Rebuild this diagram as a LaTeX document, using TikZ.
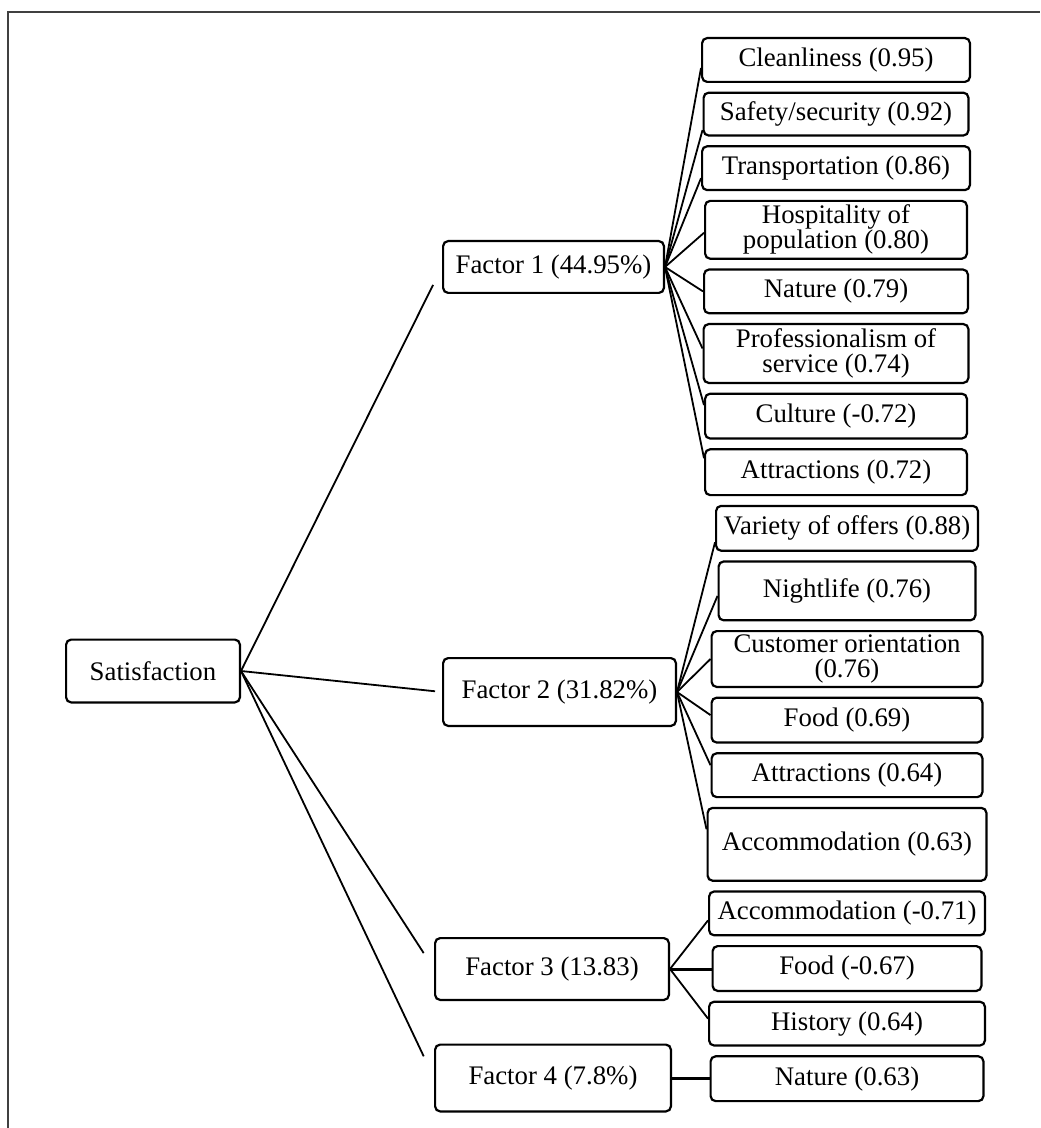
\documentclass[tikz,border=0pt]{standalone}
\usepackage{fontspec}
\setmainfont{Liberation Serif}
\usetikzlibrary{positioning}

\begin{document}
\begin{tikzpicture}[x=0.5pt,y=-0.5pt,
  box/.style={draw, rounded corners=2.5pt, line width=1.1pt, align=center, inner sep=1pt, font=\fontsize{13.4}{12.5}\selectfont},
  leaf/.style={box, minimum height=21.9pt},
  link/.style={line width=0.9pt},
  node distance=4.3pt]

\useasboundingbox (0,0) rectangle (1040,1128);
\draw[line width=1pt, black!75] (8,1128) -- (8,12) -- (1040,12);

\node[box, minimum width=86.9pt, minimum height=31.4pt] (S) at (153,671) {Satisfaction};

\node[box, minimum width=110.4pt, minimum height=25.9pt] (F_1) at (553.5,267) {Factor 1 (44.95\%)};
\node[box, minimum width=116.4pt, minimum height=33.9pt] (F_2) at (559.5,692) {Factor 2 (31.82\%)};
\node[box, minimum width=116.9pt, minimum height=30.9pt] (F_3) at (552,969) {Factor 3 (13.83)};
\node[box, minimum width=117.9pt, minimum height=33.4pt] (F_4) at (553,1078) {Factor 4 (7.8\%)};

\node[leaf, minimum width=133.9pt] (C_1^1) at (836,60) {Cleanliness (0.95)};
\node[leaf, minimum width=132.4pt, minimum height=21.4pt, below=of C_1^1] (C_1^2) {Safety/security (0.92)};
\node[leaf, minimum width=133.9pt, below=of C_1^2] (C_1^3) {Transportation (0.86)};
\node[leaf, minimum width=130.9pt, minimum height=28.9pt, below=of C_1^3] (C_1^4) {Hospitality of\\population (0.80)};
\node[leaf, minimum width=131.9pt, below=of C_1^4] (C_1^5) {Nature (0.79)};
\node[leaf, minimum width=132.4pt, minimum height=29.4pt, below=of C_1^5] (C_1^6) {Professionalism of\\service (0.74)};
\node[leaf, minimum width=130.9pt, minimum height=22.4pt, below=of C_1^6] (C_1^7) {Culture (-0.72)};
\node[leaf, minimum width=130.9pt, minimum height=22.9pt, below=of C_1^7] (C_1^8) {Attractions (0.72)};

\node[leaf, minimum width=130.9pt, minimum height=22.4pt, below=of C_1^8, xshift=5.5pt] (C_2^1) {Variety of offers (0.88)};
\node[leaf, minimum width=128.4pt, minimum height=29.4pt, below=of C_2^1] (C_2^2) {Nightlife (0.76)};
\node[leaf, minimum width=135.4pt, minimum height=27.9pt, below=of C_2^2] (C_2^3) {Customer orientation\\(0.76)};
\node[leaf, minimum width=135.4pt, minimum height=22.4pt, below=of C_2^3] (C_2^4) {Food (0.69)};
\node[leaf, minimum width=135.4pt, below=of C_2^4] (C_2^5) {Attractions (0.64)};
\node[leaf, minimum width=139.4pt, minimum height=36.4pt, below=of C_2^5] (C_2^6) {Accommodation (0.63)};

\node[leaf, minimum width=137.9pt, below=of C_2^6] (C_3^1) {Accommodation (-0.71)};
\node[leaf, minimum width=134.4pt, minimum height=22.4pt, below=of C_3^1] (C_3^2) {Food (-0.67)};
\node[leaf, minimum width=137.9pt, below=of C_3^2] (C_3^3) {History (0.64)};

\node[leaf, minimum width=136.4pt, minimum height=22.4pt, below=of C_3^3] (C_4^1) {Nature (0.63)};

\draw[link, shorten >=10pt] (S.east) -- (F_1.west);
\draw[link, shorten >=3.5pt] (S.east) -- (F_2.west);
\draw[link, shorten >=9.5pt] (S.east) -- (F_3.west);
\draw[link, shorten >=12pt] (S.east) -- (F_4.west);

\draw[link] (F_1.east) -- ([yshift=-4pt]C_1^1.west);
\draw[link] (F_1.east) -- ([yshift=-8pt]C_1^2.west);
\draw[link] (F_1.east) -- ([yshift=-5pt]C_1^3.west);
\draw[link] (F_1.east) -- ([yshift=-1.5pt]C_1^4.west);
\draw[link] (F_1.east) -- (C_1^5.west);
\draw[link] (F_1.east) -- ([yshift=2.5pt]C_1^6.west);
\draw[link] (F_1.east) -- ([yshift=5.5pt]C_1^7.west);
\draw[link] (F_1.east) -- ([yshift=7pt]C_1^8.west);

\draw[link] (F_2.east) -- ([yshift=-7pt]C_2^1.west);
\draw[link] (F_2.east) -- ([yshift=-2.5pt]C_2^2.west);
\draw[link] (F_2.east) -- (C_2^3.west);
\draw[link] (F_2.east) -- ([yshift=2.5pt]C_2^4.west);
\draw[link] (F_2.east) -- ([yshift=5pt]C_2^5.west);
\draw[link] (F_2.east) -- ([yshift=7.5pt]C_2^6.west);

\draw[link] (F_3.east) -- ([yshift=-3.5pt]C_3^1.west);
\draw[link, line width=1.5pt] (F_3.east) -- (F_3.east -| C_3^2.west);
\draw[link] (F_3.east) -- ([yshift=2.5pt]C_3^3.west);

\draw[link, line width=1.5pt] (F_4.east) -- (F_4.east -| C_4^1.west);

\end{tikzpicture}
\end{document}
